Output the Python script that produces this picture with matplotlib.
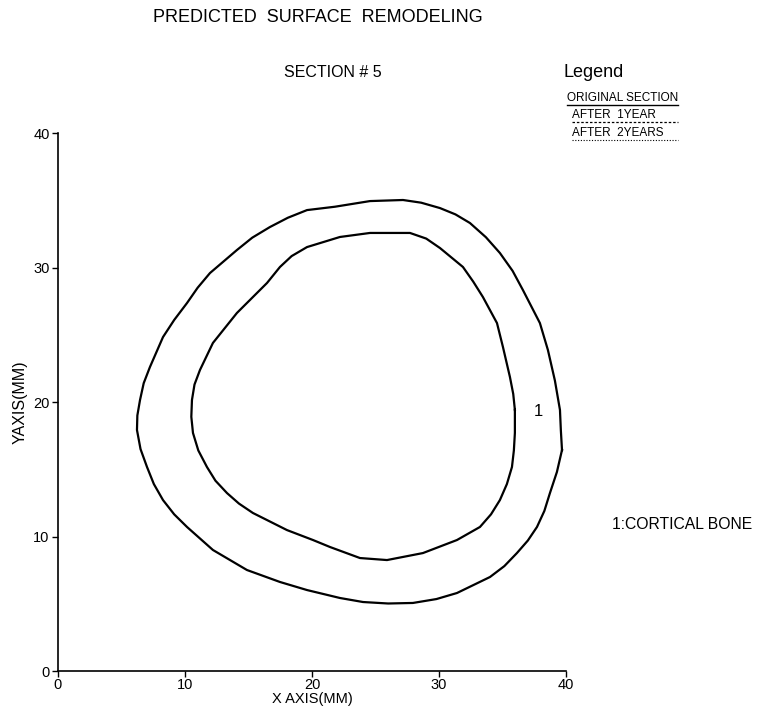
import matplotlib.pyplot as plt
from matplotlib.lines import Line2D

plt.rcParams['font.family'] = ['Liberation Sans', 'DejaVu Sans']

# outer boundary of the section (mm)
outer_x = [39.69, 39.60, 39.53, 39.13, 38.58, 37.95, 36.61, 35.80, 34.80, 33.70,
           32.44, 31.30, 30.08, 28.60, 27.17, 24.57, 21.81, 19.61, 18.10, 16.69,
           15.30, 14.09, 11.97, 11.00, 10.16, 9.15, 8.27, 7.24, 6.75, 6.46,
           6.25, 6.22, 6.50, 7.01, 7.55, 8.27, 9.15, 10.16, 12.20, 14.88,
           17.48, 19.61, 22.20, 24.02, 26.00, 27.95, 29.80, 31.42, 34.02, 35.15,
           36.14, 37.00, 37.72, 38.30, 38.74, 39.29]
outer_y = [16.43, 17.90, 19.41, 21.60, 23.87, 25.87, 28.33, 29.75, 31.08, 32.25,
           33.31, 33.95, 34.42, 34.82, 35.02, 34.94, 34.52, 34.27, 33.70, 33.01,
           32.22, 31.30, 29.59, 28.50, 27.36, 26.10, 24.83, 22.60, 21.40, 20.15,
           19.00, 17.92, 16.50, 15.17, 13.90, 12.71, 11.65, 10.71, 9.00, 7.51,
           6.62, 6.02, 5.43, 5.13, 5.02, 5.06, 5.35, 5.80, 6.99, 7.80,
           8.77, 9.70, 10.71, 11.90, 13.23, 14.80]

# inner boundary (mm)
inner_x = [35.98, 35.98, 35.90, 35.75, 35.35, 34.80, 34.10, 33.23, 31.42, 28.74,
           25.91, 23.78, 21.42, 20.08, 18.03, 15.35, 14.25, 13.31, 12.40, 11.73,
           11.05, 10.63, 10.50, 10.55, 10.75, 11.18, 12.20, 14.09, 16.46, 17.48,
           18.40, 19.61, 22.20, 24.57, 27.72, 29.00, 30.08, 31.89, 32.70, 33.46,
           34.57, 35.04, 35.59, 35.85]
inner_y = [19.41, 17.70, 16.40, 15.17, 13.90, 12.71, 11.65, 10.71, 9.74, 8.77,
           8.25, 8.40, 9.22, 9.74, 10.48, 11.75, 12.45, 13.23, 14.15, 15.17,
           16.40, 17.70, 18.90, 20.15, 21.30, 22.38, 24.39, 26.62, 28.85, 30.04,
           30.85, 31.52, 32.27, 32.57, 32.57, 32.15, 31.45, 30.04, 28.95, 27.81,
           25.87, 24.09, 21.86, 20.60]

ticks = [0, 10, 20, 30, 40]

fig = plt.figure(figsize=(7.57, 7.14), dpi=100)
ax = fig.add_axes([0.0766, 0.0602, 0.671, 0.7535])

for xs, ys in [(outer_x, outer_y), (inner_x, inner_y)]:
    ax.plot(xs + xs[:1], ys + ys[:1], color='black', lw=1.6,
            solid_joinstyle='round')

ax.set_xlim(0, 40)
ax.set_ylim(0, 40)
ax.set_xticks(ticks)
ax.set_yticks(ticks)
ax.tick_params(labelsize=10.5, length=4, width=1, direction='out', pad=2)
ax.tick_params(axis='x', pad=1)
ax.spines['top'].set_visible(False)
ax.spines['right'].set_visible(False)
ax.spines['left'].set_linewidth(1.2)
ax.spines['bottom'].set_linewidth(1.2)
ax.set_xlabel('X AXIS(MM)', fontsize=10.5, labelpad=0)
ax.set_ylabel('YAXIS(MM)', fontsize=11.5, labelpad=4)

ax.text(37.8, 19.3, '1', fontsize=12, ha='center', va='center')

fig.text(0.42, 0.975, 'PREDICTED  SURFACE  REMODELING', fontsize=13,
         ha='center', va='center')
fig.text(0.44, 0.899, 'SECTION # 5', fontsize=11.5, ha='center', va='center')
fig.text(0.745, 0.899, 'Legend', fontsize=13, ha='left', va='center')
fig.text(0.749, 0.863, 'ORIGINAL SECTION', fontsize=8.5, ha='left', va='center')
fig.text(0.756, 0.839, 'AFTER  1YEAR', fontsize=8.5, ha='left', va='center')
fig.text(0.756, 0.814, 'AFTER  2YEARS', fontsize=8.5, ha='left', va='center')
fig.text(0.808, 0.265, '1:CORTICAL BONE', fontsize=11.3, ha='left', va='center')

fig.add_artist(Line2D([0.749, 0.895], [0.853, 0.853], color='black', lw=1.0))
fig.add_artist(Line2D([0.756, 0.895], [0.829, 0.829], color='black', lw=0.9,
                      linestyle=(0, (2, 1.5))))
fig.add_artist(Line2D([0.756, 0.895], [0.804, 0.804], color='black', lw=0.8,
                      linestyle=(0, (1, 1.5))))

fig.savefig('out.png', dpi=100)
